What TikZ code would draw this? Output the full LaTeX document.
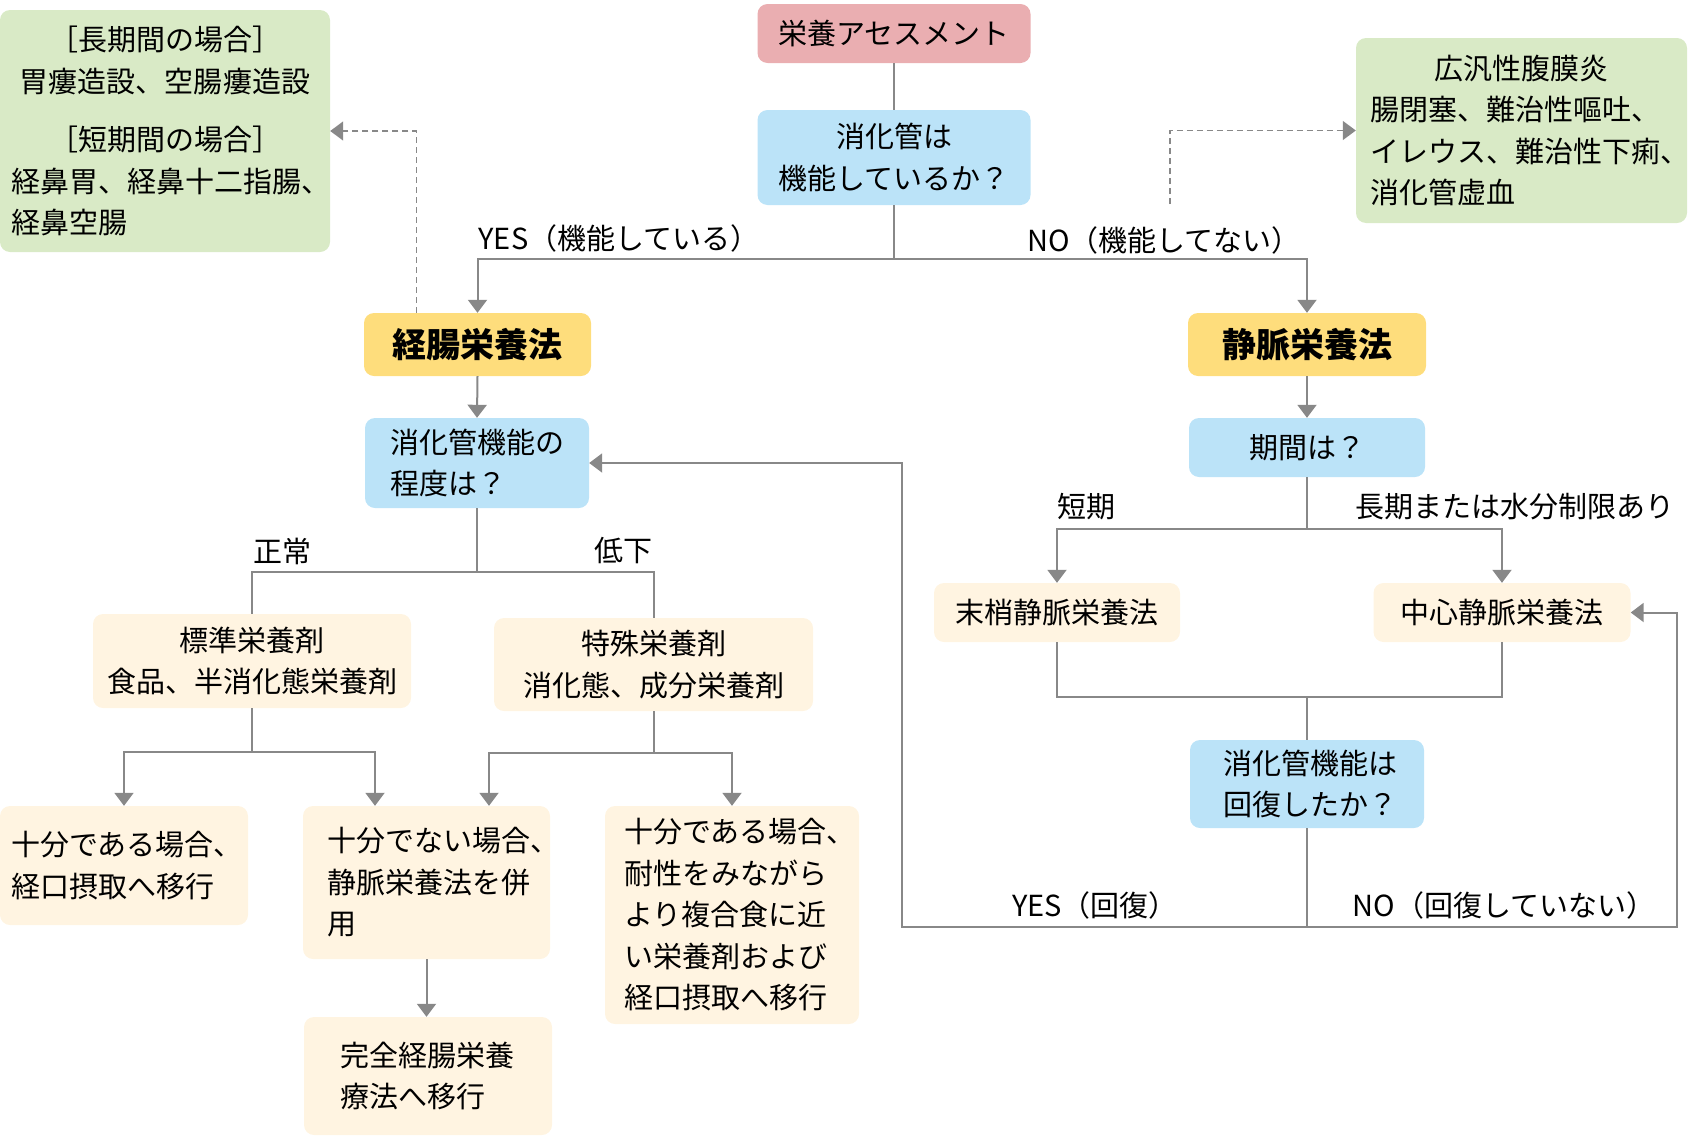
\documentclass[tikz,border=0pt]{standalone}
\usepackage{fontspec}
\setmainfont{Noto Sans CJK JP}
\usetikzlibrary{arrows.meta,calc}
\definecolor{cpink}{HTML}{EAAEB1}
\definecolor{cblue}{HTML}{BBE3F8}
\definecolor{cyellow}{HTML}{FEDD7C}
\definecolor{cgreen}{HTML}{D9EAC6}
\definecolor{ccream}{HTML}{FFF4E1}
\definecolor{lc}{HTML}{888888}
\newcommand\mynf{\fontsize{29}{41.5}\selectfont}
\newcommand\myhf{\fontsize{34}{40}\selectfont\bfseries}
\begin{document}
\begin{tikzpicture}[x=1pt,y=-1pt,
  bx/.style={draw=none, rounded corners=10pt, inner sep=0pt, font=\mynf, text=black},
  ln/.style={draw=lc, line width=2pt},
  ar/.style={ln, -{Triangle[length=13pt,width=19pt]}},
  dar/.style={ar, dash pattern=on 6pt off 4pt, line width=1.4pt},
  lab/.style={inner sep=0pt, font=\mynf, text=black}]
\useasboundingbox (0,0) rectangle (1689,1146);

% boxes
\node[bx, fill=cpink, minimum width=273pt, minimum height=59pt] (assess) at (894,33.5) {栄養アセスメント};
\node[bx, fill=cblue, minimum width=273pt, minimum height=95pt, align=center] (q1) at (894,157.5) {消化管は\\機能しているか？};
\node[bx, fill=cgreen, minimum width=330pt, minimum height=242pt, text width=308pt, align=left] (lg) at (165,131)
  {\makebox[\linewidth]{［長期間の場合］}\\\makebox[\linewidth]{胃瘻造設、空腸瘻造設}\\[17pt]\makebox[\linewidth]{［短期間の場合］}\\経鼻胃、経鼻十二指腸、\\経鼻空腸};
\node[bx, fill=cgreen, minimum width=331pt, minimum height=185pt, text width=303pt, align=left] (rg) at (1521.5,130.5)
  {\makebox[\linewidth]{広汎性腹膜炎}\\腸閉塞、難治性嘔吐、\\イレウス、難治性下痢、\\消化管虚血};
\node[bx, fill=cyellow, minimum width=227pt, minimum height=63pt, font=\myhf] (ent) at (477.5,344.5) {経腸栄養法};
\node[bx, fill=cyellow, minimum width=238pt, minimum height=63pt, font=\myhf] (par) at (1307,344.5) {静脈栄養法};
\node[bx, fill=cblue, minimum width=224pt, minimum height=90pt, text width=174pt, align=left] (q2) at (477,463) {消化管機能の\\程度は？};
\node[bx, fill=cblue, minimum width=236pt, minimum height=59pt] (q3) at (1307,447.5) {期間は？};
\node[bx, fill=ccream, minimum width=246pt, minimum height=59pt] (pvn) at (1057,612.5) {末梢静脈栄養法};
\node[bx, fill=ccream, minimum width=257pt, minimum height=59pt] (cvn) at (1502,612.5) {中心静脈栄養法};
\node[bx, fill=cblue, minimum width=234pt, minimum height=88pt, text width=168pt, align=left] (q4) at (1307,784) {消化管機能は\\回復したか？};
\node[bx, fill=ccream, minimum width=318pt, minimum height=94pt, align=center] (std) at (252,661) {標準栄養剤\\食品、半消化態栄養剤};
\node[bx, fill=ccream, minimum width=319pt, minimum height=93pt, align=center] (spc) at (653.5,664.5) {特殊栄養剤\\消化態、成分栄養剤};
\node[bx, fill=ccream, minimum width=248pt, minimum height=119pt, text width=226pt, align=left] (A) at (124,865.5) {十分である場合、\\経口摂取へ移行};
\node[bx, fill=ccream, minimum width=247pt, minimum height=153pt, text width=199pt, align=left] (B) at (426.5,882.5) {十分でない場合、\\静脈栄養法を併\\用};
\node[bx, fill=ccream, minimum width=254pt, minimum height=218pt, text width=216pt, align=left] (C) at (732,915) {十分である場合、\\耐性をみながら\\より複合食に近\\い栄養剤および\\経口摂取へ移行};
\node[bx, fill=ccream, minimum width=248pt, minimum height=118pt, text width=176pt, align=left] (D) at (428,1076) {完全経腸栄養\\療法へ移行};

% labels
\node[lab] (lyes) at (619,238) {YES（機能している）};
\node[lab] (lno) at (1164,240) {NO（機能してない）};
\node[lab] (lnorm) at (282,551) {正常};
\node[lab] (llow) at (623,551) {低下};
\node[lab] (lshort) at (1086,507) {短期};
\node[lab] (llong) at (1515,507) {長期または水分制限あり};
\node[lab] (lyes2) at (1095,905) {YES（回復）};
\node[lab] (lno2) at (1504,905) {NO（回復していない）};

% connectors
\coordinate (j1) at (894,259);
\draw[ln] (assess.south) -- (q1.north);
\draw[ln] (q1.south) -- (j1);
\draw[ar] (j1) -| (ent.north);
\draw[ar] (j1) -| (par.north);
\draw[dar] ([xshift=-61pt]ent.north) |- (lg.east);
\coordinate (dn) at (1170,204);
\draw[dar] (dn) |- (rg.west);
\draw[ar] (ent.south) -- (q2.north);
\draw[ar] (par.south) -- (q3.north);
\coordinate (j2) at (477,572);
\draw[ln] (q2.south) -- (j2);
\draw[ln] (j2) -| (std.north);
\draw[ln] (j2) -| (spc.north);
\draw[ar] (std.south) -- ++(0,44) -| (A.north);
\draw[ar] (std.south) -- ++(0,44) -| ([xshift=-51.5pt]B.north);
\draw[ar] (spc.south) -- ++(0,42) -| ([xshift=62.5pt]B.north);
\draw[ar] (spc.south) -- ++(0,42) -| (C.north);
\draw[ar] (B.south) -- (B.south |- D.north);
\coordinate (j3) at (1307,529);
\draw[ln] (q3.south) -- (j3);
\draw[ar] (j3) -| (pvn.north);
\draw[ar] (j3) -| (cvn.north);
\coordinate (j5) at (1307,697);
\draw[ln] (pvn.south) |- (j5);
\draw[ln] (cvn.south) |- (j5);
\draw[ln] (j5) -- (q4.north);
\coordinate (j4) at (1307,927);
\draw[ln] (q4.south) -- (j4);
\coordinate (fbl) at (902,927);
\draw[ar] (j4) -- (fbl) |- (q2.east);
\coordinate (fbr) at (1677,927);
\draw[ar] (j4) -- (fbr) |- (cvn.east);
\end{tikzpicture}
\end{document}
